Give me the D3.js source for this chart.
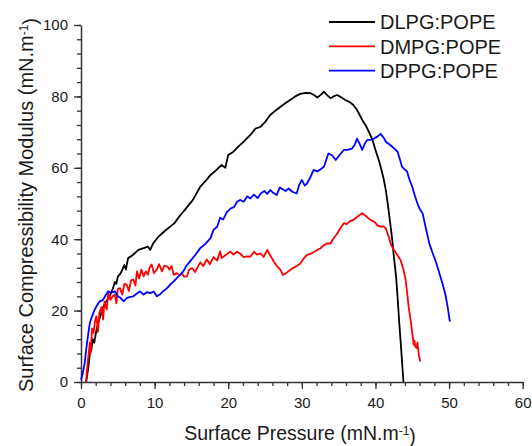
<!DOCTYPE html>
<html>
<head>
<meta charset="utf-8">
<script src="https://cdn.jsdelivr.net/npm/d3@7"></script>
<style>
  body { margin: 0; background: #fff; }
  svg text { font-family: "Liberation Sans", Arial, sans-serif; fill: #1a1a1a; }
</style>
</head>
<body>
<svg id="chart" width="532" height="446"></svg>
<script>
// surface pressure (mN/m) vs compressibility modulus
var dlpg = [[0.7,0],[1.0,4],[1.2,8],[1.4,9],[1.6,12],[1.8,11],[2.1,14.6],[2.4,17],[2.7,19],[3.0,21],[3.4,22.5],[3.9,24],[4.3,26],[4.6,28],[4.8,27.5],[5.0,29.5],[5.4,30.5],[5.9,32.8],[6.1,31.5],[6.4,34.7],[7.0,35.5],[7.8,37],[8.5,37.5],[9.1,37.9],[9.4,37],[9.8,38.8],[10.5,40.7],[11.5,42.5],[12.7,44.5],[13.4,46.5],[14.1,48.2],[15.2,51],[16.2,54.7],[17.0,56.5],[17.6,58],[18.3,59.2],[19.1,60.8],[19.6,60],[20.0,63.6],[20.7,64.5],[21.4,66],[22.1,67.3],[23.0,69.2],[23.7,71],[24.4,71.5],[25.0,72.8],[25.7,74.8],[26.4,76],[27.1,77.1],[27.7,78],[28.4,79],[29.1,80],[29.8,80.7],[30.5,81],[31.2,80.9],[31.7,80.3],[32.1,79.7],[32.6,80.5],[33.0,81.3],[33.5,80.2],[33.9,79.5],[34.3,80],[34.8,80.4],[35.3,79.8],[35.9,79],[36.5,78.4],[37.0,77.6],[37.5,76.2],[37.8,75],[38.2,73.4],[38.7,71.8],[39.1,70.1],[39.6,67.8],[40.0,65],[40.4,62.5],[40.7,60.3],[41.1,57],[41.4,53.8],[41.7,49.5],[42.0,44.5],[42.3,39.5],[42.5,35.1],[42.8,29.5],[43.0,23.9],[43.2,17.5],[43.4,11.8],[43.6,6],[43.8,0]];

var dmpg = [[0.7,0],[0.8,3],[1.0,7.2],[1.2,11],[1.3,8],[1.5,15],[1.7,13.7],[1.9,17],[2.1,18.4],[2.3,14],[2.5,19.5],[2.8,21],[3.0,17.5],[3.2,22.5],[3.5,20.3],[3.7,25],[4.0,23],[4.3,24],[4.6,24.5],[4.8,22],[5.0,26],[5.3,26.3],[5.6,24.5],[5.9,27.5],[6.2,27.3],[6.5,25.5],[6.8,28.5],[7.1,28.7],[7.4,27],[7.6,31],[7.9,29],[8.2,31.5],[8.5,29.6],[8.8,31],[9.1,30],[9.3,32],[9.6,32.9],[9.9,30.5],[10.3,31.5],[10.6,33],[11.0,31],[11.3,32.5],[11.7,32.4],[12.0,31.5],[12.3,32.5],[12.6,30],[13.0,30.5],[13.4,29.8],[13.7,30.5],[14.0,29.5],[14.4,29.6],[14.7,31.5],[15.1,31.9],[15.5,30.8],[16.2,33.5],[16.6,32.5],[17.1,34.3],[17.5,33],[18.0,35],[18.5,34],[18.9,36.6],[19.1,34.7],[19.6,35.5],[20.3,36.5],[20.7,35.7],[21.2,36.5],[21.6,36],[22.1,35],[22.5,35.2],[23.0,35.1],[23.5,36.5],[23.9,35.7],[24.4,36],[24.8,35],[25.3,37],[25.7,35.5],[26.2,33.7],[26.6,32.5],[27.1,31.4],[27.4,30],[27.8,30.4],[28.3,31.2],[28.8,31.9],[29.3,32.5],[29.8,33.2],[30.2,34.5],[30.7,35.6],[31.3,36],[31.7,36.5],[32.1,37],[32.5,37.4],[32.9,38.2],[33.4,38.8],[33.9,38.8],[34.2,39.9],[34.8,41.6],[35.2,43],[35.7,44.5],[36.1,44.2],[36.5,45],[37.0,45.4],[37.5,46.2],[38.2,47.3],[38.7,46.5],[39.3,45.4],[39.9,44.8],[40.3,43.8],[40.7,43.5],[41.1,43.6],[41.4,43],[41.8,40.7],[42.1,38.5],[42.5,37],[43.0,35.5],[43.4,34.2],[43.8,31.5],[44.1,28.6],[44.3,25],[44.5,21.1],[44.8,17],[45.0,13.6],[45.2,10.5],[45.3,11.5],[45.4,9.9],[45.6,9.5],[45.7,11],[45.9,7.5],[46.1,5.7]];

var dppg = [[0,0.6],[0.2,2],[0.5,5.3],[0.7,9],[1.0,13.7],[1.2,16.5],[1.5,18.4],[1.8,20],[2.1,21.2],[2.5,22.5],[3.0,23],[3.4,24.5],[3.7,25.4],[4.1,25],[4.6,25.4],[5.0,24],[5.4,23.5],[5.8,22.6],[6.2,23.5],[6.6,23.8],[7.1,24],[7.6,24.8],[8.0,25.4],[8.5,24.5],[9.0,25.2],[9.4,24.9],[9.9,25.3],[10.3,24],[10.7,24.5],[11.2,25.5],[11.7,26.3],[12.2,27.5],[12.6,28.2],[13.2,29.5],[13.9,31],[14.3,32.5],[14.8,33.8],[15.5,35.5],[16.2,37.5],[16.8,38.5],[17.6,40.3],[18.0,42.6],[18.5,43.5],[18.9,46],[19.3,45.5],[19.8,47.5],[20.3,48.6],[20.8,49],[21.2,50.5],[21.6,51],[22.1,50.5],[22.6,52],[23.0,51.4],[23.5,52.5],[24.0,51.5],[24.4,52.8],[24.9,53.5],[25.3,52.7],[25.7,53.8],[26.1,53],[26.6,52.4],[27.0,54.5],[27.4,54],[27.8,53.5],[28.2,54.2],[28.7,53.3],[29.3,52.8],[29.6,55],[30.0,56.6],[30.4,55],[30.7,55.6],[31.2,57.5],[31.6,59.4],[32.1,59],[32.5,59.5],[33.0,60.3],[33.6,64],[34.1,63.5],[34.6,62.2],[35.1,63.5],[35.7,65],[36.2,65],[36.8,65.4],[37.2,66.5],[37.5,68.2],[37.9,66.5],[38.2,65],[38.6,67],[38.9,67.8],[39.4,67.8],[39.8,68.2],[40.3,68.8],[40.7,69.5],[41.1,68.5],[41.4,67.3],[42.0,66.4],[42.5,65.5],[43.0,64.5],[43.3,62.5],[43.6,60.3],[44.0,59.5],[44.3,58.9],[44.6,56.8],[45.0,54.7],[45.3,52.5],[45.7,50],[46.0,48.5],[46.4,47.3],[46.8,43.5],[47.3,38.9],[47.7,36.5],[48.2,33.7],[48.6,31],[49.1,27.6],[49.5,24.5],[49.8,21.1],[50.1,16.9]];

var seriesNames = ["DLPG:POPE", "DMPG:POPE", "DPPG:POPE"];
var seriesColors = ["#000000", "#ff0000", "#0000ff"];
var xTicks = [0, 10, 20, 30, 40, 50, 60];
var yTicks = [0, 20, 40, 60, 80, 100];

var svg = d3.select("#chart");

var x = d3.scaleLinear().domain([0, 60]).range([81, 522.7]);
var y = d3.scaleLinear().domain([0, 100]).range([382, 25]);

//minor ticks first, then the major axis on top
svg.append("g")
    .attr("transform", "translate(0,382)")
    .call(d3.axisBottom(x).tickValues(d3.range(0, 61, 2)).tickSize(4).tickFormat(""))
    .call(function(g) { g.select(".domain").remove(); });

svg.append("g")
    .attr("transform", "translate(81,0)")
    .call(d3.axisLeft(y).tickValues(d3.range(0, 101, 4)).tickSize(4).tickFormat(""))
    .call(function(g) { g.select(".domain").remove(); });

var xAxis = svg.append("g")
    .attr("transform", "translate(0,382)")
    .call(d3.axisBottom(x).tickValues(xTicks).tickSize(7).tickPadding(8).tickSizeOuter(0));

var yAxis = svg.append("g")
    .attr("transform", "translate(81,0)")
    .call(d3.axisLeft(y).tickValues(yTicks).tickSize(7).tickPadding(6).tickSizeOuter(0));

svg.selectAll(".tick line").attr("stroke", "#333").attr("stroke-width", 1.3);
svg.selectAll(".domain").attr("stroke", "#333").attr("stroke-width", 1.5);
svg.selectAll(".tick text").style("font-size", "15px").attr("fill", "#1a1a1a");

//curves
var line = d3.line()
    .x(function(d) { return x(d[0]); })
    .y(function(d) { return y(d[1]); });

var allSeries = [dlpg, dmpg, dppg];

svg.append("g").selectAll("path")
    .data(allSeries)
    .enter()
    .append("path")
    .attr("d", line)
    .attr("fill", "none")
    .attr("stroke-width", 1.8)
    .attr("stroke-linejoin", "round")
    .attr("stroke", function(d, i) { return seriesColors[i]; });

//axis titles with superscript
function unitTitle(sel, label) {
    sel.append("tspan").text(label + " (mN.m");
    sel.append("tspan").attr("dy", "-0.45em").style("font-size", "12px").text("-1");
    sel.append("tspan").attr("dy", "0.45em").text(")");
}

svg.append("text")
    .attr("x", 300)
    .attr("y", 440)
    .attr("text-anchor", "middle")
    .style("font-size", "19.5px")
    .call(unitTitle, "Surface Pressure");

svg.append("text")
    .attr("transform", "translate(33,205) rotate(-90)")
    .attr("text-anchor", "middle")
    .style("font-size", "20px")
    .call(unitTitle, "Surface Compressibility Modulus");

//legend
var legend = svg.append("g").selectAll("g")
    .data(seriesNames)
    .enter()
    .append("g")
    .attr("transform", function(d, i) { return "translate(0," + (22 + i * 24.3) + ")"; });

legend.append("line")
    .attr("x1", 329)
    .attr("x2", 375)
    .attr("stroke-width", 1.8)
    .attr("stroke", function(d, i) { return seriesColors[i]; });

legend.append("text")
    .attr("x", 380)
    .attr("dy", "0.36em")
    .style("font-size", "20px")
    .text(function(d) { return d; });
</script>
</body>
</html>
